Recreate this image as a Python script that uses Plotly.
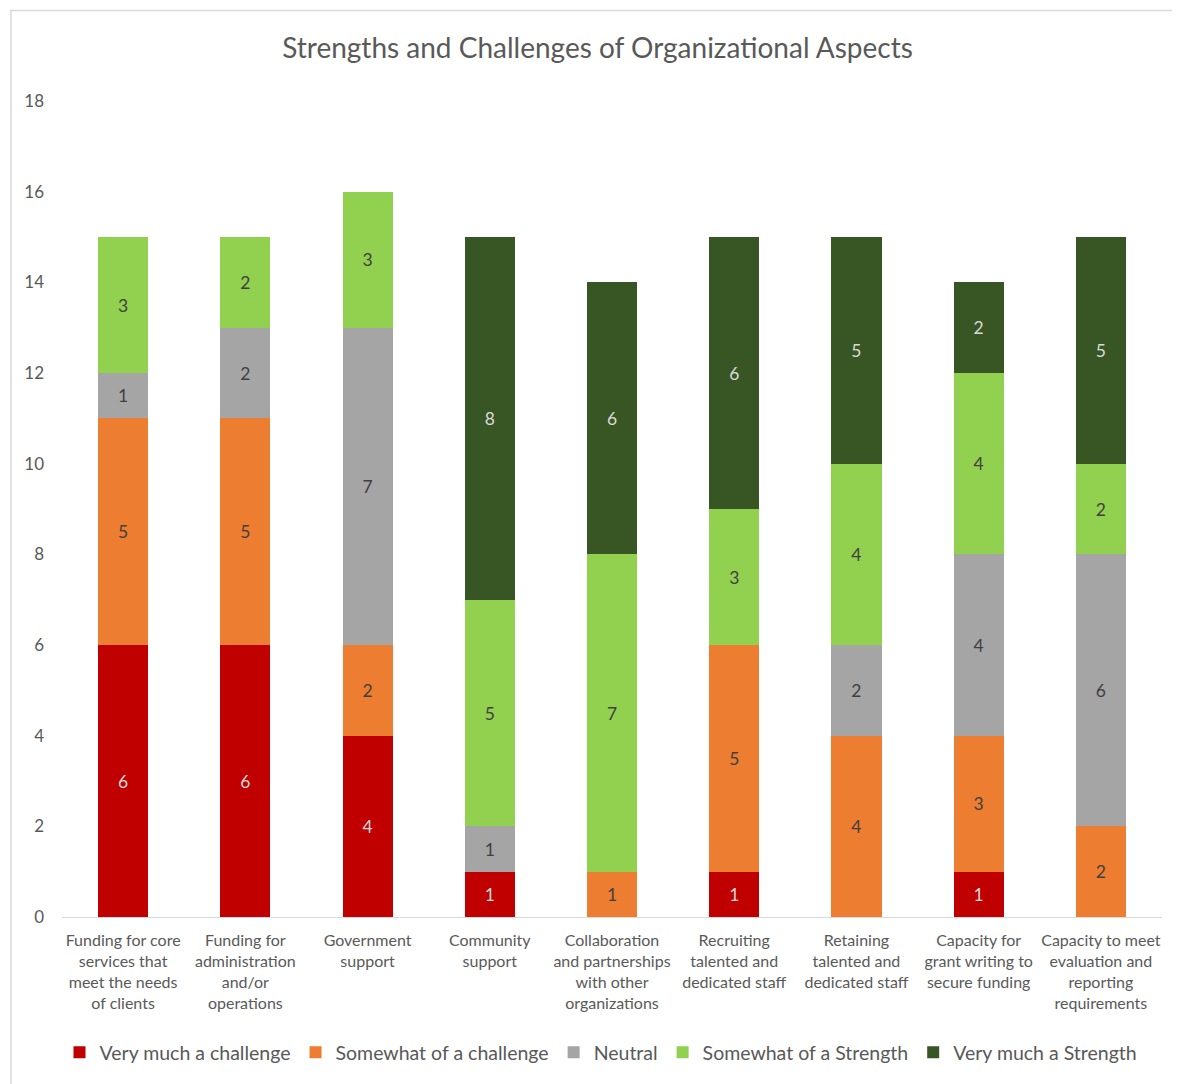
import plotly.graph_objects as go

categories = [
    "Funding for core<br>services that<br>meet the needs<br>of clients",
    "Funding for<br>administration<br>and/or<br>operations",
    "Government<br>support",
    "Community<br>support",
    "Collaboration<br>and partnerships<br>with other<br>organizations",
    "Recruiting<br>talented and<br>dedicated staff",
    "Retaining<br>talented and<br>dedicated staff",
    "Capacity for<br>grant writing to<br>secure funding",
    "Capacity to meet<br>evaluation and<br>reporting<br>requirements",
]

very_challenge = [6, 6, 4, 1, 0, 1, 0, 1, 0]
somewhat_challenge = [5, 5, 2, 0, 1, 5, 4, 3, 2]
neutral = [1, 2, 7, 1, 0, 0, 2, 4, 6]
somewhat_strength = [3, 2, 3, 5, 7, 3, 4, 4, 2]
very_strength = [0, 0, 0, 8, 6, 6, 5, 2, 5]

series = [
    ("Very much a challenge", very_challenge, "#C00000", "#D9D9D9"),
    ("Somewhat of a challenge", somewhat_challenge, "#ED7D31", "#404040"),
    ("Neutral", neutral, "#A5A5A5", "#404040"),
    ("Somewhat of a Strength", somewhat_strength, "#92D050", "#404040"),
    ("Very much a Strength", very_strength, "#375623", "#D9D9D9"),
]

FONT = "Lato, 'Open Sans', sans-serif"

fig = go.Figure()
for name, vals, color, tcolor in series:
    fig.add_trace(go.Bar(
        name=name,
        x=categories,
        y=vals,
        marker=dict(color=color, line=dict(width=0)),
        text=[str(v) if v else "" for v in vals],
        textposition="inside",
        insidetextanchor="middle",
        textangle=0,
        textfont=dict(color=tcolor, size=17.5, family=FONT),
        hoverinfo="name+y",
    ))

fig.update_layout(
    barmode="stack",
    bargap=0.59,
    width=1172,
    height=1076,
    margin=dict(l=54, r=18, t=93, b=161),
    paper_bgcolor="white",
    plot_bgcolor="white",
    font=dict(family=FONT, color="#595959"),
    title=dict(
        text="Strengths and Challenges of Organizational Aspects",
        x=0.503, xanchor="center",
        y=0.963, yanchor="middle",
        font=dict(size=28, color="#595959", family=FONT),
    ),
    xaxis=dict(
        showgrid=False,
        showline=True,
        linecolor="#D9D9D9",
        linewidth=1,
        ticks="",
        tickfont=dict(size=16, color="#595959", family=FONT),
        tickangle=0,
        ticklabelstandoff=9,
    ),
    yaxis=dict(
        range=[0, 18],
        dtick=2,
        showgrid=False,
        zeroline=False,
        showline=False,
        ticks="",
        tickfont=dict(size=17, color="#595959", family=FONT),
        ticklabelstandoff=17,
    ),
    legend=dict(
        orientation="h",
        x=0.49, xanchor="center",
        y=-0.166, yanchor="middle",
        font=dict(size=19.5, color="#595959", family=FONT),
        itemwidth=30,
        traceorder="normal",
    ),
    shapes=[dict(
        type="rect", xref="paper", yref="paper",
        x0=-0.0464, x1=1.2, y0=-0.5, y1=1.111,
        line=dict(color="#D9D9D9", width=1.5),
        fillcolor="rgba(0,0,0,0)",
        layer="below",
    )],
)

fig.write_html("out.html")
